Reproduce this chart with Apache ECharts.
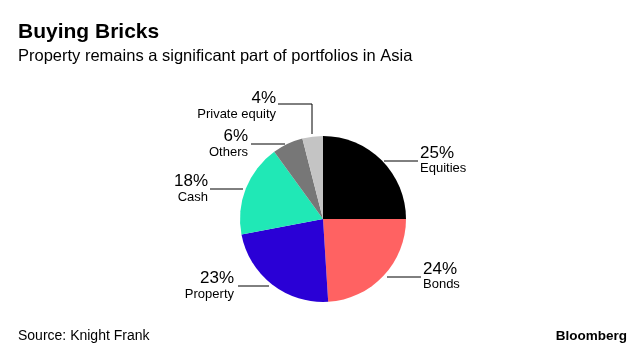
<!DOCTYPE html>
<html><head><meta charset="utf-8">
<script src="https://cdn.jsdelivr.net/npm/echarts@6/dist/echarts.min.js"></script>
<style>html,body{margin:0;padding:0;background:#fff}#c{width:640px;height:351px}</style>
</head><body><div id="c"></div>
<script>
const categories = ['Equities', 'Bonds', 'Property', 'Cash', 'Others', 'Private equity'];
const shares = [25, 24, 23, 18, 6, 4];
const colors = ['#000000', '#ff6262', '#2a00d6', '#20e8b6', '#777777', '#c4c4c4'];

// label anchor positions and leader lines (layout only)
const labelPos = [
  {x: 420, y: 160, align: 'left', line: [[384,161],[400,161],[418,161]]},
  {x: 423, y: 276, align: 'left', line: [[387,277],[405,277],[421,277]]},
  {x: 234, y: 285.5, align: 'right', line: [[269,286],[253,286],[238,286]]},
  {x: 208, y: 188.5, align: 'right', line: [[243,189],[226,189],[210,189]]},
  {x: 248, y: 143.5, align: 'right', line: [[285,144],[268,144],[251,144]]},
  {x: 276, y: 105.5, align: 'right', line: [[312,134],[312,104],[278,104]]}
];

const chart = echarts.init(document.getElementById('c'), null, {renderer: 'canvas'});
const font = '"Liberation Sans", Arial, sans-serif';
chart.setOption({
  animation: false,
  title: [
    {text: 'Buying Bricks', left: 18, top: 22, padding: 0, textStyle: {fontFamily: font, fontWeight: 'bold', fontSize: 21, color: '#000'}},
    {text: 'Property remains a significant part of portfolios in Asia', left: 18, top: 48, padding: 0, textStyle: {fontFamily: font, fontWeight: 'normal', fontSize: 16.5, color: '#000'}},
    {text: 'Source: Knight Frank', left: 18, top: 329, padding: 0, textStyle: {fontFamily: font, fontWeight: 'normal', fontSize: 14, color: '#000'}},
    {text: 'Bloomberg', right: 13, top: 329, padding: 0, textStyle: {fontFamily: font, fontWeight: 'bold', fontSize: 13.5, color: '#000'}}
  ],
  series: [{
    type: 'pie',
    center: [323, 219],
    radius: [0, 83],
    startAngle: 90,
    clockwise: true,
    data: categories.map((c, i) => ({name: c, value: shares[i], itemStyle: {color: colors[i]}})),
    itemStyle: {borderWidth: 0},
    label: {
      show: true,
      formatter: p => '{p|' + p.value + '%}\n{n|' + p.name + '}',
      fontFamily: font,
      color: '#000',
      rich: {
        p: {fontFamily: font, fontSize: 17, lineHeight: 17, color: '#000'},
        n: {fontFamily: font, fontSize: 13, lineHeight: 14, color: '#000'}
      }
    },
    labelLine: {show: true, lineStyle: {color: '#000', width: 1}},
    labelLayout: function (params) {
      const L = labelPos[params.dataIndex];
      return {x: L.x, y: L.y, align: L.align, verticalAlign: 'middle', labelLinePoints: L.line};
    },
    emphasis: {disabled: true}
  }]
});
</script></body></html>
